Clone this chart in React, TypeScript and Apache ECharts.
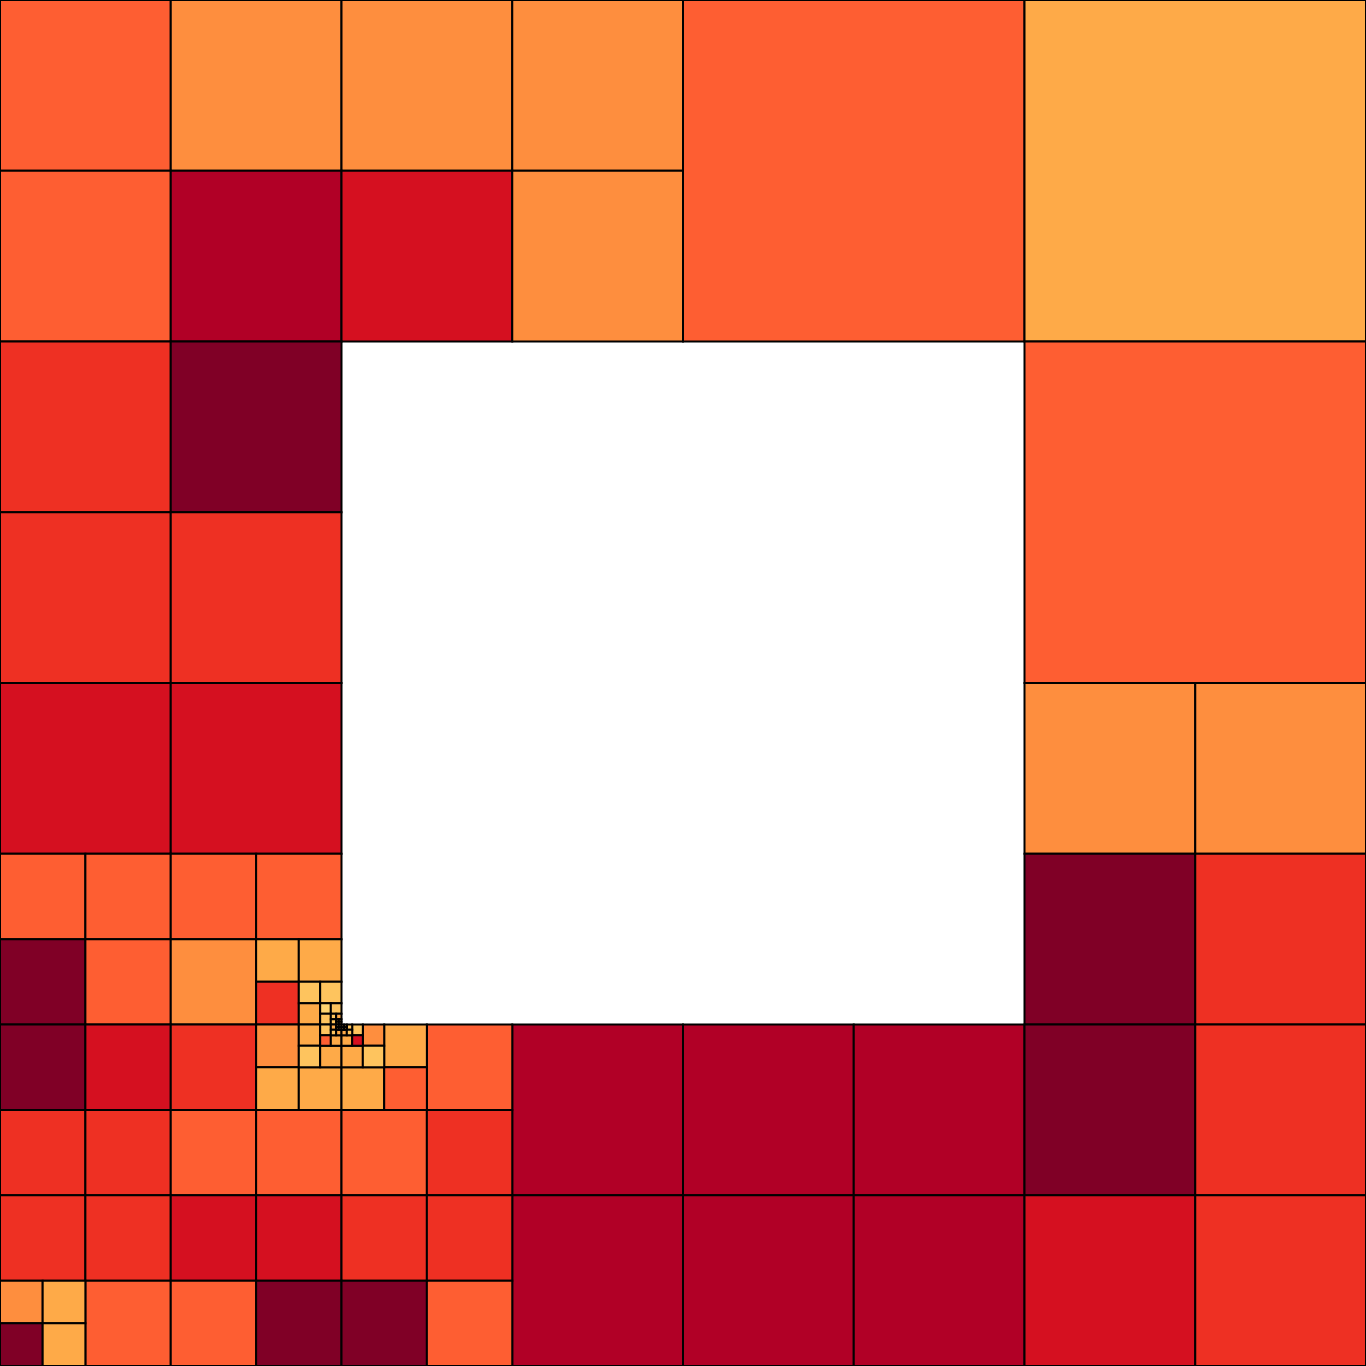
import React, { useEffect, useRef } from "react";
import * as echarts from "echarts";

// Colour scale (lightest -> darkest)
const palette = [
  "#FED470", "#FEC45E", "#FEAA48", "#FE8E3E", "#FE5E32",
  "#EE3023", "#D51020", "#B10026", "#800026",
];

// Mesh cells: [x, y, colourIndex], grouped by cell size (domain 16 x 16, y from top)
const cells4 = [[8, 0, 4], [12, 0, 2], [12, 4, 4]];
const cells2 = [
  [0, 0, 4], [2, 0, 3], [4, 0, 3], [6, 0, 3],
  [0, 2, 4], [2, 2, 7], [4, 2, 6], [6, 2, 3],
  [0, 4, 5], [2, 4, 8],
  [0, 6, 5], [2, 6, 5],
  [0, 8, 6], [2, 8, 6],
  [12, 8, 3], [14, 8, 3],
  [12, 10, 8], [14, 10, 5],
  [6, 12, 7], [8, 12, 7], [10, 12, 7], [12, 12, 8], [14, 12, 5],
  [6, 14, 7], [8, 14, 7], [10, 14, 7], [12, 14, 6], [14, 14, 5],
];
const cells1 = [
  [0, 10, 4], [1, 10, 4], [2, 10, 4], [3, 10, 4],
  [0, 11, 8], [1, 11, 4], [2, 11, 3],
  [0, 12, 8], [1, 12, 6], [2, 12, 5], [5, 12, 4],
  [0, 13, 5], [1, 13, 5], [2, 13, 4], [3, 13, 4], [4, 13, 4], [5, 13, 5],
  [0, 14, 5], [1, 14, 5], [2, 14, 6], [3, 14, 6], [4, 14, 5], [5, 14, 5],
  [1, 15, 4], [2, 15, 4], [3, 15, 8], [4, 15, 8], [5, 15, 4],
];
const cellsHalf = [
  [3, 11, 2], [3.5, 11, 2], [3, 11.5, 5],
  [3, 12, 3], [3, 12.5, 2], [3.5, 12.5, 2],
  [4.5, 12, 2], [4, 12.5, 2], [4.5, 12.5, 4],
  [0, 15, 3], [0.5, 15, 2], [0, 15.5, 8], [0.5, 15.5, 2],
];
const cellsQuarter = [
  [3.5, 11.5, 1], [3.75, 11.5, 1], [3.5, 11.75, 2],
  [3.5, 12, 2], [3.5, 12.25, 1], [3.75, 12.25, 2],
  [4.25, 12, 3], [4, 12.25, 2], [4.25, 12.25, 1],
];
const cellsEighth = [
  [3.75, 11.75, 0], [3.875, 11.75, 1], [3.75, 11.875, 1],
  [3.75, 12, 1], [3.75, 12.125, 4], [3.875, 12.125, 2],
  [4.125, 12, 1], [4, 12.125, 2], [4.125, 12.125, 6],
];
const cellsSixteenth = [
  [3.875, 11.875, 1], [3.9375, 11.875, 2], [3.875, 11.9375, 1],
  [3.875, 12, 2], [3.875, 12.0625, 1], [3.9375, 12.0625, 2],
  [4.0625, 12, 1], [4, 12.0625, 2], [4.0625, 12.0625, 1],
];
const cellsThirtySecond = [
  [3.9375, 11.9375, 2], [3.96875, 11.9375, 1], [3.9375, 11.96875, 1], [3.96875, 11.96875, 2],
  [3.9375, 12, 1], [3.96875, 12, 2], [3.9375, 12.03125, 2], [3.96875, 12.03125, 1],
  [4, 12, 2], [4.03125, 12, 1], [4, 12.03125, 1], [4.03125, 12.03125, 2],
];

const groups: [number[][], number][] = [
  [cells4, 4], [cells2, 2], [cells1, 1], [cellsHalf, 0.5], [cellsQuarter, 0.25],
  [cellsEighth, 0.125], [cellsSixteenth, 0.0625], [cellsThirtySecond, 0.03125],
];

export default function App() {
  const ref = useRef<HTMLDivElement>(null);
  useEffect(() => {
    if (!ref.current) return;
    const chart = echarts.init(ref.current, undefined, { renderer: "svg" });
    const data: number[][] = [];
    groups.forEach(([list, size]) => {
      list.forEach(([x, y, c]) => data.push([x, y, size, c]));
    });
    chart.setOption({
      animation: false,
      backgroundColor: "#ffffff",
      grid: { left: 0, right: 0, top: 0, bottom: 0 },
      xAxis: { type: "value", min: 0, max: 16, show: false },
      yAxis: { type: "value", min: 0, max: 16, inverse: true, show: false },
      series: [
        {
          type: "custom",
          data,
          encode: { x: [0], y: [1] },
          renderItem: (params: any, api: any) => {
            const x = api.value(0);
            const y = api.value(1);
            const s = api.value(2);
            const c = api.value(3);
            const p0 = api.coord([x, y]);
            const p1 = api.coord([x + s, y + s]);
            return {
              type: "rect",
              shape: { x: p0[0], y: p0[1], width: p1[0] - p0[0], height: p1[1] - p0[1] },
              style: { fill: palette[c], stroke: "#000000", lineWidth: 2 },
            };
          },
        },
      ],
    });
    return () => chart.dispose();
  }, []);
  return (
    <div
      ref={ref}
      style={{ position: "fixed", left: 0, top: 0, width: 1366, height: 1366 }}
    />
  );
}
